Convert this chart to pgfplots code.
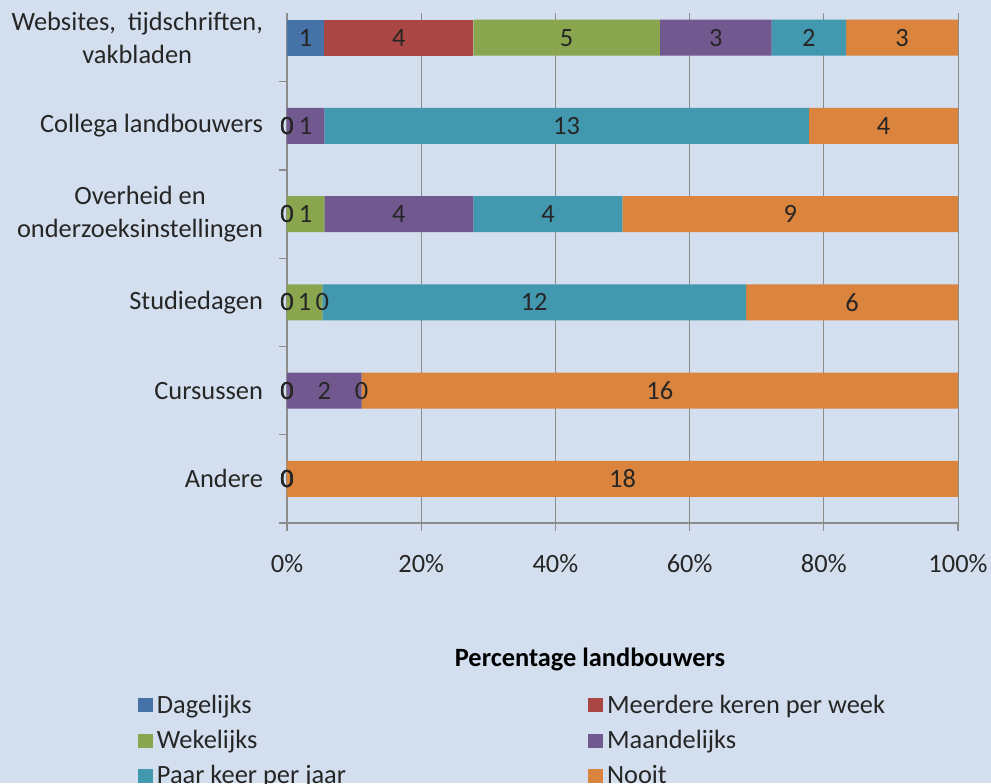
\documentclass[border=0pt]{standalone}
\usepackage{fontspec}
\setmainfont{Carlito}
\usepackage{pgfplots}
\usepackage{pgfplotstable}
\pgfplotsset{compat=1.18}
\definecolor{bgBlue}{HTML}{D3DFEE}
\definecolor{cDag}{HTML}{4572A7}
\definecolor{cMeer}{HTML}{AA4643}
\definecolor{cWeek}{HTML}{89A54E}
\definecolor{cMaand}{HTML}{71588F}
\definecolor{cJaar}{HTML}{4198AF}
\definecolor{cNooit}{HTML}{DB843D}
\definecolor{axGray}{HTML}{8C8C8C}

% counts per source: y = row (5 = top), tot = respondents
\pgfplotstableread{
y tot d m w ma p n
5 18 1 4 5 3 2 3
4 18 0 0 0 1 13 4
3 18 0 0 1 4 4 9
2 19 0 0 1 0 12 6
1 18 0 0 0 2 0 16
0 18 0 0 0 0 0 18
}\freq

\newcommand{\lbl}{\fontsize{13.2}{16.5}\selectfont}

\pgfplotsset{
  frame/.style={at={(0,0)},anchor=south west,
    scale only axis,width=335.5pt,height=255pt,
    xmin=0,xmax=100,ymin=-0.5,ymax=5.28,clip=false},
  key/.style={legend image code/.code={\fill[##1] (0pt,-3.5pt) rectangle (7.5pt,3.5pt);}},
  lab/.style={only marks,mark=none,point meta=explicit,nodes near coords,
    every node near coord/.append style={anchor=center,font=\lbl,text=black!85}}
}

\begin{document}
\begin{tikzpicture}
  \fill[bgBlue] (-143.5pt,-130pt) rectangle (352pt,261.5pt);
  \begin{axis}[
    frame,
    xbar stacked,bar width=18pt,
    xtick={0,20,...,100},
    xticklabels={0\%,20\%,40\%,60\%,80\%,100\%},
    ytick={0,...,5},
    yticklabels={Andere,Cursussen,Studiedagen,{Overheid en\\onderzoeksinstellingen},
                 Collega landbouwers,{Websites,\ \ tijdschriften,\\vakbladen}},
    minor ytick={-0.5,0.5,...,4.5},
    every major y tick/.append style={draw=none},
    tick align=outside,major tick length=4pt,minor tick length=4pt,
    axis x line*=bottom,axis y line*=left,
    axis line style={axGray,line width=0.6pt},
    tick style={axGray,line width=0.6pt},
    xmajorgrids,grid style={axGray,line width=0.5pt},
    tick label style={font=\lbl,text=black!85},
    yticklabel style={align=center,xshift=-4.5pt},
    xticklabel style={yshift=-8pt},
    xlabel={Percentage landbouwers},
    xlabel style={at={(axis description cs:0.4516,-0.2667)},anchor=center,
                  font=\bfseries\lbl,text=black},
    legend columns=2,legend cell align=left,
    legend style={at={(-0.2317,-0.3204)},anchor=north west,draw=none,fill=none,
                  font=\lbl,text=black!85,row sep=3pt,
                  /tikz/every even column/.append style={column sep=119pt}},
  ]
    \addplot[fill=cDag,draw=none,key]
      table[x expr=\thisrow{d}*100/\thisrow{tot},y=y] {\freq};
    \addlegendentry{Dagelijks}
    \addplot[fill=cMeer,draw=none,key]
      table[x expr=\thisrow{m}*100/\thisrow{tot},y=y] {\freq};
    \addlegendentry{Meerdere keren per week}
    \addplot[fill=cWeek,draw=none,key]
      table[x expr=\thisrow{w}*100/\thisrow{tot},y=y] {\freq};
    \addlegendentry{Wekelijks}
    \addplot[fill=cMaand,draw=none,key]
      table[x expr=\thisrow{ma}*100/\thisrow{tot},y=y] {\freq};
    \addlegendentry{Maandelijks}
    \addplot[fill=cJaar,draw=none,key]
      table[x expr=\thisrow{p}*100/\thisrow{tot},y=y] {\freq};
    \addlegendentry{Paar keer per jaar}
    \addplot[fill=cNooit,draw=none,key]
      table[x expr=\thisrow{n}*100/\thisrow{tot},y=y] {\freq};
    \addlegendentry{Nooit}
  \end{axis}
  % data labels: counts, centred in each segment
  \begin{axis}[frame,hide axis,/pgf/number format/assume math mode=true]
    \addplot[lab] table[x expr=\thisrow{d}*50/\thisrow{tot},y=y,meta=d] {\freq};
    \addplot[lab] table[x expr=(\thisrow{d}+\thisrow{m}/2)*100/\thisrow{tot},
                        y=y,meta=m] {\freq};
    \addplot[lab] table[x expr=(\thisrow{d}+\thisrow{m}+\thisrow{w}/2)*100/\thisrow{tot},
                        y=y,meta=w] {\freq};
    \addplot[lab] table[x expr=(\thisrow{d}+\thisrow{m}+\thisrow{w}+\thisrow{ma}/2)*100/\thisrow{tot},
                        y=y,meta=ma] {\freq};
    \addplot[lab] table[x expr=(\thisrow{d}+\thisrow{m}+\thisrow{w}+\thisrow{ma}+\thisrow{p}/2)*100/\thisrow{tot},
                        y=y,meta=p] {\freq};
    \addplot[lab] table[x expr=(\thisrow{tot}-\thisrow{n}/2)*100/\thisrow{tot},
                        y=y,meta=n] {\freq};
  \end{axis}
  \pgfresetboundingbox
  \path (-143.5pt,-130pt) rectangle (352pt,261.5pt);
\end{tikzpicture}
\end{document}
